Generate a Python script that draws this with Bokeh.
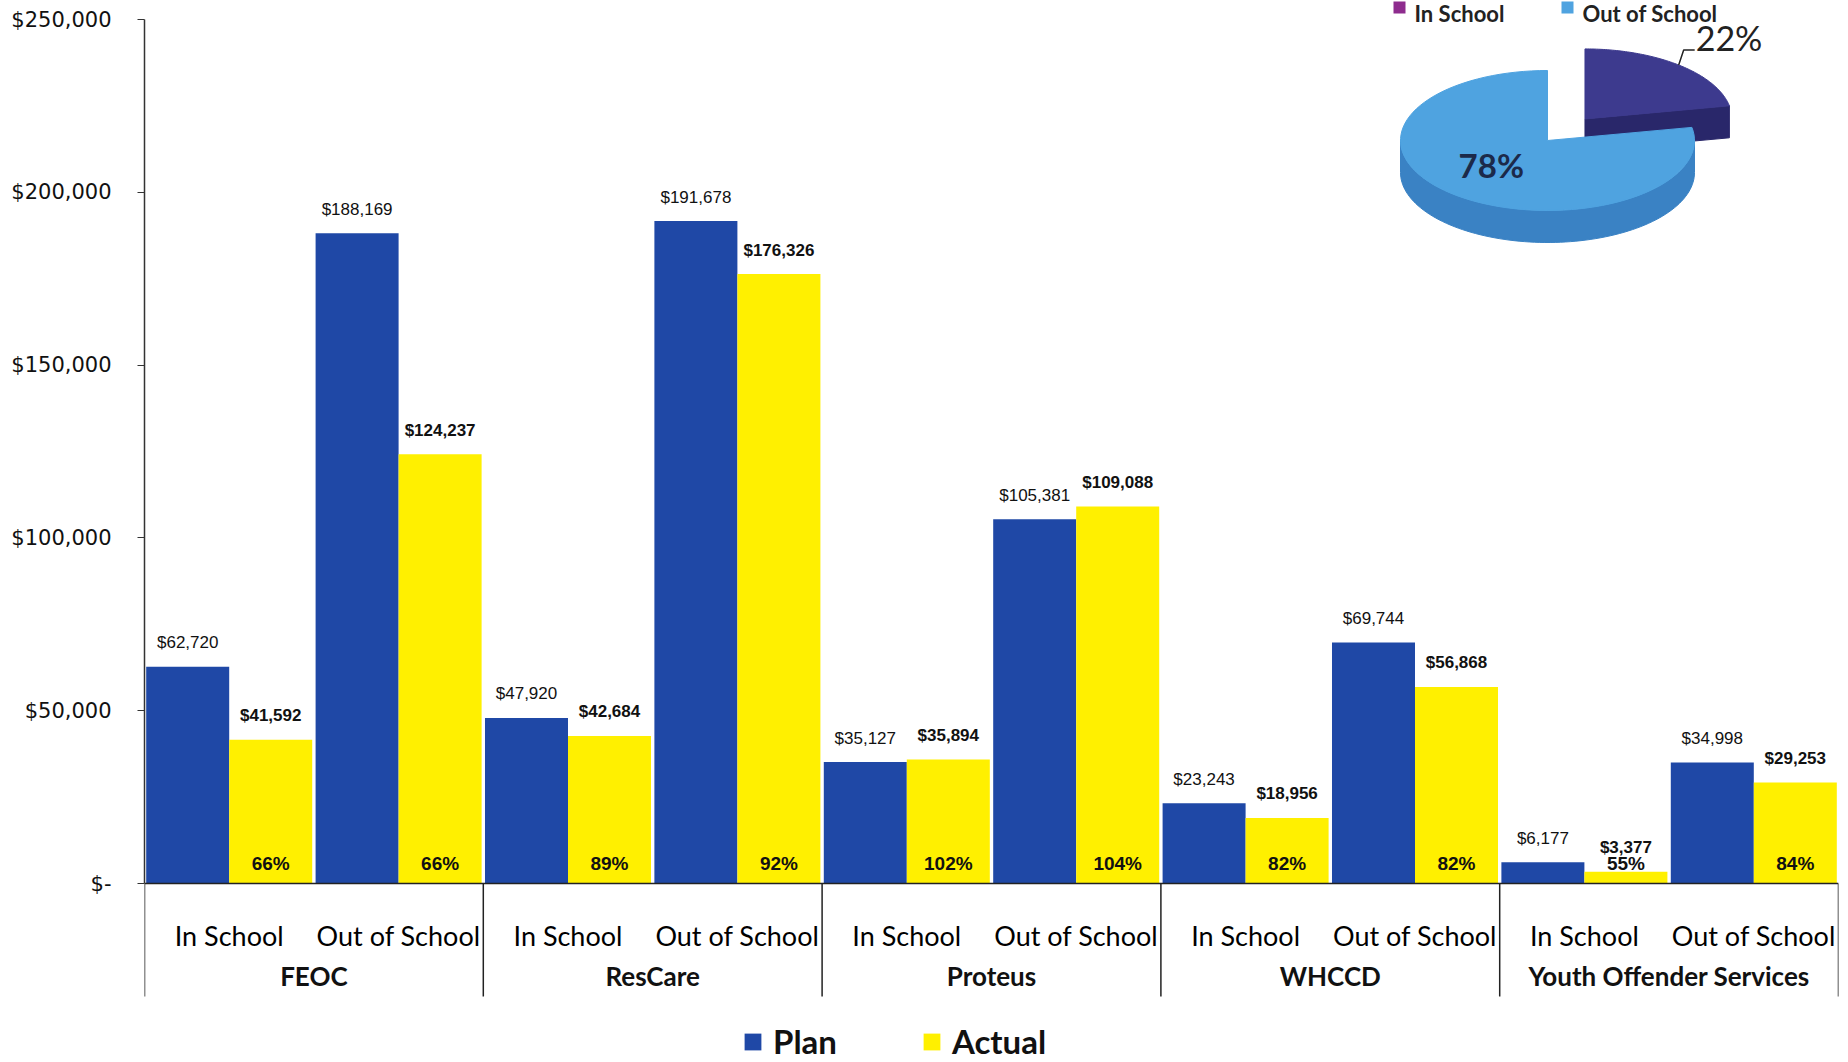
import numpy as np
from bokeh.plotting import figure
from bokeh.models import (FactorRange, ColumnDataSource, Range1d, FixedTicker,
                          CategoricalAxis)
from bokeh.transform import dodge
from bokeh.core.properties import value
from bokeh.embed import file_html
from bokeh.resources import INLINE

# ---------------- data ----------------
providers = ["FEOC", "ResCare", "Proteus", "WHCCD", "Youth Offender Services"]
segments = ["In School", "Out of School"]
plan = [62720, 188169, 47920, 191678, 35127, 105381, 23243, 69744, 6177, 34998]
actual = [41592, 124237, 42684, 176326, 35894, 109088, 18956, 56868, 3377, 29253]
y_ticks = [0, 50000, 100000, 150000, 200000, 250000]
y_tick_labels = ["$-", "$50,000", "$100,000", "$150,000", "$200,000", "$250,000"]
pie_labels = ["In School", "Out of School"]
pie_shares = [22, 78]

# ---------------- colours / fonts ----------------
PLAN_C = "#1F48A6"
ACT_C = "#FFF000"
TXT = "#111111"
PIE_TOP = ["#3D3A8E", "#4FA3E0"]
PIE_SIDE = ["#29276A", "#3A82C4"]
PIE_LEG = ["#8E2C8E", "#4FA3E0"]
CAT_FONT = "Lato"

# ---------------- layout (canvas == page pixels) ----------------
W, H = 1848, 1062
Y0_PX, YTOP_PX = 883, 19          # canvas y of $0 and of $250,000
scale = 250000 / (Y0_PX - YTOP_PX)
y_end = 250000 + YTOP_PX * scale
y_start = -(H - Y0_PX) * scale

factors = [(pv, sg) for pv in providers for sg in segments]

# page-x -> synthetic categorical coordinate (frame spans x 144..1838)
FRAME_X0, FRAME_X1 = 144, 1838
UNIT = (FRAME_X1 - FRAME_X0) / len(factors)


def px(v):
    return (np.asarray(v, dtype=float) - FRAME_X0) / UNIT


p = figure(width=W, height=H,
           x_range=FactorRange(*factors, factor_padding=0, group_padding=0, range_padding=0),
           y_range=Range1d(y_start, y_end),
           output_backend="svg", toolbar_location=None,
           min_border_left=FRAME_X0, min_border_right=W - FRAME_X1,
           min_border_top=0, min_border_bottom=0)
p.outline_line_color = None
p.xgrid.visible = False
p.ygrid.visible = False
p.background_fill_color = "white"

# page-pixel y range for the pie inset and separators
p.extra_y_ranges = {"px": Range1d(H, 0)}

# ---------------- y axis ----------------
ya = p.yaxis[0]
ya.ticker = FixedTicker(ticks=y_ticks)
ya.major_label_overrides = dict(zip(y_ticks, y_tick_labels))
ya.bounds = (0, 250000)
ya.minor_tick_line_color = None
ya.major_tick_in = 0
ya.major_tick_out = 7
ya.major_label_standoff = 26
ya.axis_line_color = "#333333"
ya.axis_line_width = 1.5
ya.major_tick_line_color = "#333333"
ya.major_label_text_font = "DejaVu Sans"
ya.major_label_text_font_size = "21px"
ya.major_label_text_color = TXT

# ---------------- x axes (fixed at $0) ----------------
xa = p.xaxis[0]
xa.fixed_location = 0
xa.major_tick_line_color = None
xa.major_tick_in = 0
xa.major_tick_out = 0
xa.minor_tick_line_color = None
xa.axis_line_color = "#222222"
xa.axis_line_width = 1.5
xa.major_label_text_font = CAT_FONT
xa.major_label_text_font_size = "27px"
xa.major_label_text_color = "#000000"
xa.major_label_standoff = 35
xa.group_text_alpha = 0
xa.separator_line_color = None

xb = CategoricalAxis(fixed_location=0)
xb.major_tick_line_color = None
xb.major_tick_in = 0
xb.major_tick_out = 0
xb.minor_tick_line_color = None
xb.axis_line_color = None
xb.major_label_text_alpha = 0
xb.major_label_standoff = 76
xb.group_text_font = CAT_FONT
xb.group_text_font_size = "26px"
xb.group_text_color = TXT
xb.group_text_font_style = "bold"
xb.separator_line_color = None
p.add_layout(xb, "below")

# group separators
sep_x = [(pv, segments[0], -0.5) for pv in providers] + [(providers[-1], segments[-1], 0.5)]
p.segment(x0=sep_x, x1=sep_x, y0=Y0_PX, y1=996, y_range_name="px",
          line_color="#222222", line_width=1.5)

# ---------------- bars ----------------
src = ColumnDataSource(dict(
    x=factors, plan=plan, actual=actual,
    plan_lbl=[f"${v:,}" for v in plan],
    act_lbl=[f"${v:,}" for v in actual],
    pct=[f"{round(a / b * 100)}%" for a, b in zip(actual, plan)],
))
p.vbar(x=dodge("x", -0.245, range=p.x_range), top="plan", width=0.49, source=src,
       fill_color=PLAN_C, line_color=None, legend_label="Plan")
p.vbar(x=dodge("x", 0.245, range=p.x_range), top="actual", width=0.49, source=src,
       fill_color=ACT_C, line_color=None, legend_label="Actual")

p.text(x=dodge("x", -0.245, range=p.x_range), y="plan", text="plan_lbl", source=src,
       text_align="center", text_baseline="alphabetic", y_offset=-24,
       text_font=value("Liberation Sans"), text_font_size="17px", text_color=TXT)
p.text(x=dodge("x", 0.245, range=p.x_range), y="actual", text="act_lbl", source=src,
       text_align="center", text_baseline="alphabetic", y_offset=-24,
       text_font=value("Liberation Sans"), text_font_size="17px", text_font_style="bold",
       text_color=TXT)
p.text(x=dodge("x", 0.245, range=p.x_range), y=0, text="pct", source=src,
       text_align="center", text_baseline="alphabetic", y_offset=-20,
       text_font=value("Liberation Sans"), text_font_size="19px", text_font_style="bold",
       text_color=TXT)

# ---------------- legend ----------------
lg = p.legend[0]
lg.orientation = "horizontal"
lg.location = (598, 1)
lg.glyph_width = 21
lg.glyph_height = 21
lg.label_standoff = 10
lg.spacing = 84
lg.padding = 0
lg.margin = 0
lg.border_line_color = None
lg.background_fill_alpha = 0
lg.label_text_font = CAT_FONT
lg.label_text_font_size = "33px"
lg.label_text_font_style = "bold"
lg.label_text_color = TXT

# ---------------- 3-D pie inset (page-pixel coordinates) ----------------
cx, cy, rx, ry, depth, explode = 1547, 140, 147, 70, 32, 0.4
fr = np.array(pie_shares, dtype=float) / sum(pie_shares)
a_in0, a_in1 = 90.0, 90.0 - 360.0 * fr[0]          # In School, clockwise
a_out0, a_out1 = a_in1, a_in1 - 360.0 * fr[1]      # Out of School


def arc(a0, a1, ox=0.0, oy=0.0, n=90):
    t = np.radians(np.linspace(a0, a1, n))
    return cx + ox + rx * np.cos(t), cy + oy - ry * np.sin(t)


mid_in = np.radians((a_in0 + a_in1) / 2)
ox, oy = explode * rx * np.cos(mid_in), -explode * ry * np.sin(mid_in)

xs, ys, fills = [], [], []
# small (exploded) slice: front cut face then top
rxe, rye = arc(a_in1, a_in1, ox, oy, 1)
xs.append([cx + ox, rxe[0], rxe[0], cx + ox])
ys.append([cy + oy, rye[0], rye[0] + depth, cy + oy + depth])
fills.append(PIE_SIDE[0])
ax_, ay_ = arc(a_in0, a_in1, ox, oy)
xs.append(np.concatenate([[cx + ox], ax_]))
ys.append(np.concatenate([[cy + oy], ay_]))
fills.append(PIE_TOP[0])
# big slice: visible front rim then top
lo, hi = max(a_out1, -180.0), min(a_out0, 0.0)
sx1, sy1 = arc(lo, hi)
xs.append(np.concatenate([sx1, sx1[::-1]]))
ys.append(np.concatenate([sy1, sy1[::-1] + depth]))
fills.append(PIE_SIDE[1])
bx_, by_ = arc(a_out0, a_out1)
xs.append(np.concatenate([[cx], bx_]))
ys.append(np.concatenate([[cy], by_]))
fills.append(PIE_TOP[1])

p.patches(xs=[px(x).tolist() for x in xs], ys=[np.asarray(y).tolist() for y in ys],
          fill_color=fills, line_color=fills, line_width=1, y_range_name="px")

pct_txt = [f"{s}%" for s in pie_shares]
mid_out = np.radians((a_out0 + a_out1) / 2)
p.text(x=px([cx + 0.6 * rx * np.cos(mid_out)]).tolist(), y=[cy - 0.6 * ry * np.sin(mid_out)],
       text=[pct_txt[1]], text_align="center", text_baseline="middle", y_offset=-8,
       text_font=value(CAT_FONT), text_font_size="33px", text_font_style="bold",
       text_color="#1C2A4A", y_range_name="px")
lx0 = cx + ox + rx * np.cos(mid_in)
ly0 = cy + oy - ry * np.sin(mid_in)
p.line(x=px([lx0, lx0 + 5, lx0 + 16]).tolist(), y=[ly0, ly0 - 15, ly0 - 15],
       line_color="#222222", line_width=1.5, y_range_name="px")
p.text(x=px([lx0 + 17]).tolist(), y=[ly0 - 27], text=[pct_txt[0]], text_align="left",
       text_baseline="middle", text_font=value(CAT_FONT),
       text_font_size="34px", text_color="#222222", y_range_name="px")

# pie legend along the top edge
p.scatter(x=px([1399, 1567]).tolist(), y=[7, 7], marker="square", size=12,
          fill_color=PIE_LEG, line_color=None, y_range_name="px")
p.text(x=px([1414, 1582]).tolist(), y=[13, 13], text=pie_labels, text_align="left",
       text_baseline="alphabetic", text_font=value(CAT_FONT), text_font_size="22px",
       text_font_style="bold", text_color="#222222", y_range_name="px")

open("out.html", "w").write(file_html(p, INLINE))
